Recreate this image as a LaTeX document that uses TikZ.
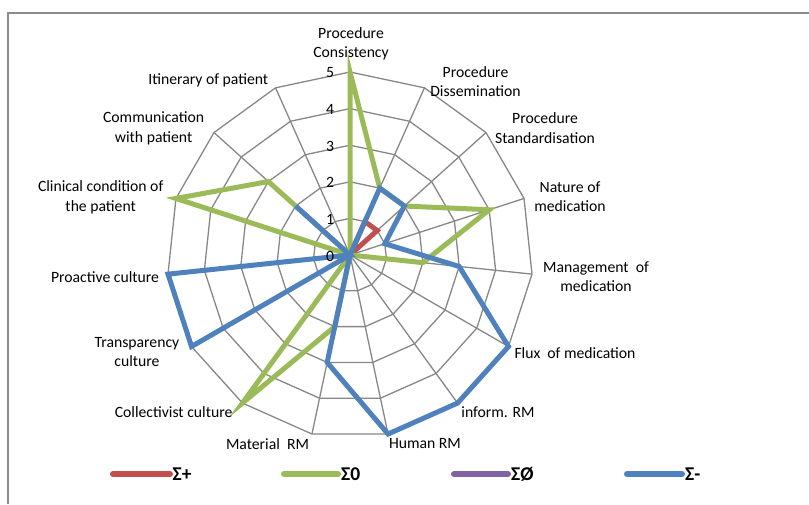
\documentclass[tikz,border=0pt]{standalone}
\usepackage{fontspec}
\setmainfont{Carlito}
\definecolor{gridgray}{HTML}{878787}
\definecolor{framegray}{HTML}{8C8C8C}
\definecolor{sred}{HTML}{C0504D}
\definecolor{sgreen}{HTML}{9BBB59}
\definecolor{spurple}{HTML}{8064A2}
\definecolor{sblue}{HTML}{4F81BD}
\begin{document}
\begin{tikzpicture}[x=1pt,y=-1pt,
  font=\fontsize{15.7}{19.3}\selectfont,
  grid/.style={draw=gridgray, line width=1.3pt},
  series/.style={line width=5pt},
  lbl/.style={align=center, inner sep=0pt, anchor=center},
  num/.style={inner sep=0pt, anchor=center},
  legline/.style={line width=6pt, line cap=round},
  legtxt/.style={inner sep=0pt, anchor=west, font=\fontsize{19.5}{22}\selectfont\bfseries}]
\useasboundingbox (0,0) rectangle (809,504);
% frame
\draw[framegray, line width=1.5pt] (8,504) -- (8,13) -- (809,13);
% centre and grid coordinates
\coordinate (c) at (350,255);
\foreach \r in {1,...,5}{
  \foreach \i in {0,...,14}{
    \coordinate (g\r-\i) at ({350+36.6*\r*cos(90-24*\i)},{255-36.6*\r*sin(90-24*\i)});
  }
}
\foreach \r in {1,...,5}{
  \draw[grid] (g\r-0) \foreach \i in {1,...,14}{ -- (g\r-\i) } -- cycle;
}
\foreach \i in {0,...,14}{ \draw[grid] (c) -- (g5-\i); }
% series coordinates
\foreach \v [count=\i from 0] in {0,1,1,0,0,0,0,0,0,0,0,0,0,0,0}
  \coordinate (r\i) at ({350+36.6*\v*cos(90-24*\i)},{255-36.6*\v*sin(90-24*\i)});
\foreach \v [count=\i from 0] in {5,2,2,4,2,0,0,0,2,5,0,0,5,3,0}
  \coordinate (z\i) at ({350+36.6*\v*cos(90-24*\i)},{255-36.6*\v*sin(90-24*\i)});
\foreach \v [count=\i from 0] in {0,2,2,1,3,5,5,5,3,0,5,5,0,2,0}
  \coordinate (m\i) at ({350+36.6*\v*cos(90-24*\i)},{255-36.6*\v*sin(90-24*\i)});
\draw[series, sred] (r0) \foreach \i in {1,...,14}{ -- (r\i) } -- cycle;
\draw[series, sgreen] (z0) \foreach \i in {1,...,14}{ -- (z\i) } -- cycle;
\draw[series, sblue] (m0) \foreach \i in {1,...,14}{ -- (m\i) } -- cycle;
% scale numbers
\foreach \k in {0,...,5}{ \node[num] (n\k) at (330,{256-36.6*\k}) {\k}; }
% axis labels
\node[lbl] (l0) at (351,43.5) {Procedure\\Consistency};
\node[lbl] (l1) at (475.5,81.7) {Procedure\\Dissemination};
\node[lbl] (l2) at (545,128) {Procedure\\Standardisation};
\node[lbl] (l3) at (570,196.7) {Nature of\\medication};
\node[lbl] (l4) at (596,276.5) {Management\ \ of\\medication};
\node[lbl] (l5) at (575,352.7) {Flux\ \ of medication};
\node[lbl] (l6) at (498,412) {inform. RM};
\node[lbl] (l7) at (425,444) {Human RM};
\node[lbl] (l8) at (267.5,444) {Material\ \ RM};
\node[lbl] (l9) at (173.6,412) {Collectivist culture};
\node[lbl] (l10) at (137,352.3) {Transparency\\culture};
\node[lbl] (l11) at (105,277) {Proactive culture};
\node[lbl] (l12) at (100.7,197.2) {Clinical condition of\\the patient};
\node[lbl] (l13) at (153.6,128.3) {Communication\\with patient};
\node[lbl] (l14) at (208.3,80.7) {Itinerary of patient};
% legend
\coordinate (k1a) at (113,474); \coordinate (k1b) at (170,474);
\coordinate (k2a) at (284,474); \coordinate (k2b) at (338,474);
\coordinate (k3a) at (454,474); \coordinate (k3b) at (508,474);
\coordinate (k4a) at (627,474); \coordinate (k4b) at (682,474);
\draw[legline, sred] (k1a) -- (k1b);
\draw[legline, sgreen] (k2a) -- (k2b);
\draw[legline, spurple] (k3a) -- (k3b);
\draw[legline, sblue] (k4a) -- (k4b);
\node[legtxt] (t1) at (172.5,474) {Σ+};
\node[legtxt] (t2) at (341,474) {Σ0};
\node[legtxt] (t3) at (511,474) {ΣØ};
\node[legtxt] (t4) at (685,474) {Σ-};
\end{tikzpicture}
\end{document}
